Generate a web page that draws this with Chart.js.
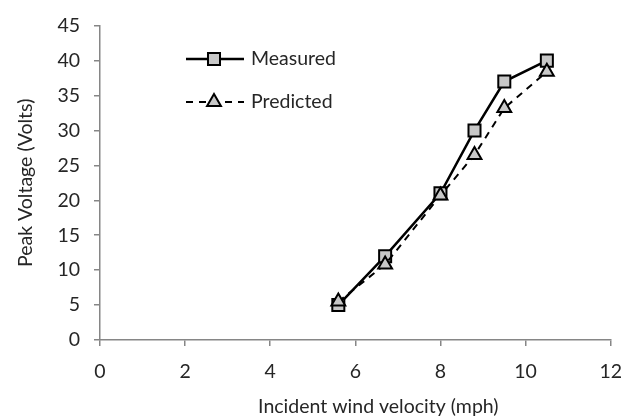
<!DOCTYPE html>
<html>
<head>
<meta charset="utf-8">
<script src="https://cdn.jsdelivr.net/npm/chart.js@4"></script>
<style>
  html, body { margin: 0; padding: 0; background: #fff; }
  #wrap { width: 636px; height: 419px; }
</style>
</head>
<body>
<div id="wrap"><canvas id="chart" width="636" height="419"></canvas></div>
<script>
// Data
const windSpeed = [5.6, 6.7, 8.0, 8.8, 9.5, 10.5];
const measured = [5, 12, 21, 30, 37, 40];
const predicted = [5.5, 10.8, 20.7, 26.5, 33.2, 38.4];
const xTicks = [0, 2, 4, 6, 8, 10, 12];
const yTicks = [0, 5, 10, 15, 20, 25, 30, 35, 40, 45];
const xTitle = 'Incident wind velocity (mph)';
const yTitle = 'Peak Voltage (Volts)';

const FONT = 'Lato, "Open Sans", sans-serif';
const FONT_SIZE = 19.5;
const AXIS_GRAY = '#868686';
const TEXT = '#262626';

function toPoints(ys) {
    return windSpeed.map((x, i) => ({ x: x, y: ys[i] }));
}

// Legend drawn inside the plot, line + marker like the original
const insideLegend = {
    id: 'insideLegend',
    afterDraw(chart) {
        const ctx = chart.ctx;
        const rows = [
            { ds: chart.data.datasets[1], y: 59 },
            { ds: chart.data.datasets[0], y: 102 }
        ];
        rows.forEach(row => {
            const ds = row.ds;
            ctx.save();
            ctx.strokeStyle = ds.borderColor;
            ctx.lineWidth = ds.borderWidth;
            ctx.setLineDash(ds.borderDash || []);
            ctx.beginPath();
            ctx.moveTo(186, row.y);
            ctx.lineTo(244, row.y);
            ctx.stroke();
            ctx.setLineDash([]);
            ctx.fillStyle = ds.pointBackgroundColor;
            ctx.lineWidth = ds.pointBorderWidth;
            ctx.strokeStyle = ds.pointBorderColor;
            Chart.helpers.drawPoint(ctx, {
                pointStyle: ds.pointStyle,
                radius: ds.pointRadius,
                rotation: 0,
                borderWidth: ds.pointBorderWidth
            }, 214, row.y);
            ctx.fillStyle = TEXT;
            ctx.font = FONT_SIZE + 'px ' + FONT;
            ctx.textBaseline = 'middle';
            ctx.fillText(ds.label, 251, row.y);
            ctx.restore();
        });

        // x axis title sits a bit right of the plot centre in the original
        const area = chart.chartArea;
        ctx.save();
        ctx.fillStyle = TEXT;
        ctx.font = FONT_SIZE + 'px ' + FONT;
        ctx.textAlign = 'center';
        ctx.textBaseline = 'middle';
        ctx.fillText(xTitle, (area.left + area.right) / 2 + 23, 407);
        ctx.restore();
    }
};

new Chart(document.getElementById('chart'), {
    type: 'scatter',
    data: {
        datasets: [
            {
                label: 'Predicted',
                data: toPoints(predicted),
                showLine: true,
                borderColor: '#000',
                borderWidth: 2,
                borderDash: [7, 6],
                pointStyle: 'triangle',
                pointRadius: 8,
                pointBackgroundColor: '#c8c8c8',
                pointBorderColor: '#000',
                pointBorderWidth: 2,
                order: 1
            },
            {
                label: 'Measured',
                data: toPoints(measured),
                showLine: true,
                borderColor: '#000',
                borderWidth: 2.5,
                pointStyle: 'rect',
                pointRadius: 8.5,
                pointBackgroundColor: '#c8c8c8',
                pointBorderColor: '#000',
                pointBorderWidth: 2,
                order: 2
            }
        ]
    },
    options: {
        responsive: false,
        animation: false,
        layout: { padding: { top: 15, right: 24, left: 0, bottom: 0 } },
        plugins: {
            legend: { display: false },
            tooltip: { enabled: false }
        },
        scales: {
            x: {
                type: 'linear',
                min: 0,
                max: 12,
                afterBuildTicks: scale => { scale.ticks = xTicks.map(v => ({ value: v })); },
                afterFit: scale => { scale.height = 79; },
                grid: { drawOnChartArea: false, drawTicks: true, tickLength: 6, color: AXIS_GRAY, lineWidth: 1.5 },
                border: { color: AXIS_GRAY, width: 1.5 },
                ticks: { color: TEXT, font: { family: FONT, size: FONT_SIZE }, padding: 14 }
            },
            y: {
                type: 'linear',
                min: 0,
                max: 45,
                afterBuildTicks: scale => { scale.ticks = yTicks.map(v => ({ value: v })); },
                afterFit: scale => { scale.width = 100; },
                grid: { drawOnChartArea: false, drawTicks: true, tickLength: 6, color: AXIS_GRAY, lineWidth: 1.5 },
                border: { color: AXIS_GRAY, width: 1.5 },
                ticks: { color: TEXT, font: { family: FONT, size: FONT_SIZE }, padding: 14 },
                title: {
                    display: true,
                    text: yTitle,
                    color: TEXT,
                    font: { family: FONT, size: FONT_SIZE },
                    padding: { top: 14, bottom: 0 }
                }
            }
        }
    },
    plugins: [insideLegend]
});
</script>
</body>
</html>
